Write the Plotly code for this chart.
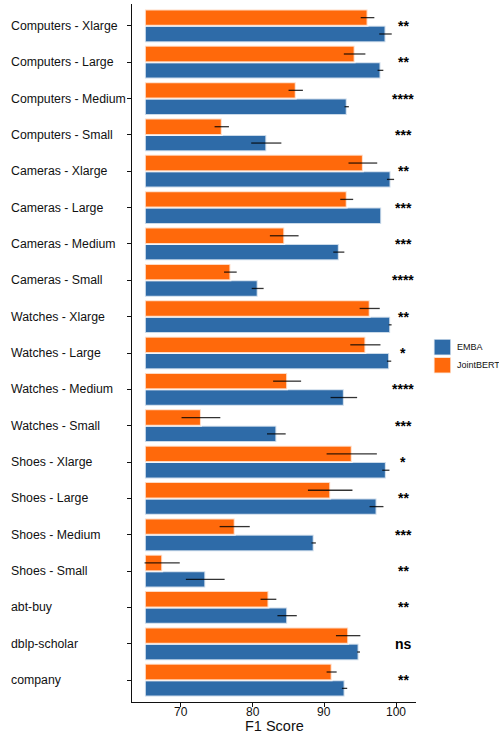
import plotly.graph_objects as go

# F1 scores (mean and sd) for each dataset, EMBA vs JointBERT
categories = [
    "Computers - Xlarge", "Computers - Large", "Computers - Medium", "Computers - Small",
    "Cameras - Xlarge", "Cameras - Large", "Cameras - Medium", "Cameras - Small",
    "Watches - Xlarge", "Watches - Large", "Watches - Medium", "Watches - Small",
    "Shoes - Xlarge", "Shoes - Large", "Shoes - Medium", "Shoes - Small",
    "abt-buy", "dblp-scholar", "company",
]
emba_f1 = [98.5, 97.8, 93.1, 81.9, 99.2, 97.9, 92.0, 80.7, 99.15, 99.0,
           92.7, 83.3, 98.55, 97.25, 88.5, 73.4, 84.8, 94.75, 92.8]
emba_sd = [0.87, 0.4, 0.3, 2.1, 0.5, 0.0, 0.77, 0.83, 0.2, 0.3,
           1.85, 1.3, 0.5, 0.97, 0.3, 2.7, 1.35, 0.2, 0.37]
jointbert_f1 = [96.0, 94.2, 86.0, 75.7, 95.35, 93.1, 84.4, 76.9, 96.3, 95.7,
                84.8, 72.8, 93.8, 90.8, 77.5, 67.4, 82.2, 93.3, 91.0]
jointbert_sd = [0.95, 1.5, 1.0, 1.0, 2.0, 0.9, 2.0, 0.88, 1.4, 2.1,
                1.95, 2.7, 3.5, 3.1, 2.1, 2.45, 1.1, 1.7, 0.7]
significance = ["**", "**", "****", "***", "**", "***", "***", "****", "**", "*",
                "****", "***", "*", "**", "***", "**", "**", "ns", "**"]
x_ticks = [70, 80, 90, 100]

BASE = 65
BLUE = "#2E6BA8"
ORANGE = "#FF690B"
FONT = "Liberation Sans, Arial, sans-serif"

fig = go.Figure()
for name, vals, sds, color in [
    ("EMBA", emba_f1, emba_sd, BLUE),
    ("JointBERT", jointbert_f1, jointbert_sd, ORANGE),
]:
    fig.add_trace(go.Bar(
        name=name, orientation="h", y=categories,
        x=[v - BASE for v in vals], base=BASE,
        marker=dict(color=color, line=dict(color="rgba(255,255,255,0.75)", width=2)),
        error_x=dict(type="data", array=sds, visible=True, width=0,
                     thickness=1.3, color="rgba(0,0,0,0.8)"),
        showlegend=False,
    ))

# Left-aligned category labels
for cat in categories:
    fig.add_annotation(text=cat, xref="paper", x=-0.434, xanchor="left",
                       yref="y", y=cat, yanchor="middle", showarrow=False,
                       font=dict(family=FONT, size=12.3, color="#111"))

# Significance marks
for cat, s in zip(categories, significance):
    fig.add_annotation(text=f"<b>{s}</b>", xref="x", x=101, xanchor="center",
                       yref="y", y=cat, yanchor="middle", showarrow=False,
                       font=dict(family=FONT, size=14, color="#000"))

# X tick labels, set close under the axis line
for t in x_ticks:
    fig.add_annotation(text=str(t), xref="x", x=t, xanchor="center",
                       yref="paper", y=-0.0145, yanchor="middle", showarrow=False,
                       borderpad=0, font=dict(family=FONT, size=12, color="#111"))

# Legend
for i, (name, color) in enumerate([("EMBA", BLUE), ("JointBERT", ORANGE)]):
    y1 = 0.5199 - i * 0.0259
    y0 = y1 - 0.0230
    fig.add_shape(type="rect", xref="paper", yref="paper",
                  x0=1.063, x1=1.123, y0=y0, y1=y1,
                  fillcolor=color, line=dict(color="rgba(255,255,255,0.75)", width=1.5))
    fig.add_annotation(text=name, xref="paper", x=1.136, xanchor="left",
                       yref="paper", y=(y0 + y1) / 2, yanchor="middle",
                       showarrow=False, font=dict(family=FONT, size=9, color="#111"))

# Axis title
fig.add_annotation(text="F1 Score", xref="paper", x=0.5, xanchor="center",
                   yref="paper", y=-0.0338, yanchor="middle", showarrow=False,
                   borderpad=0, font=dict(family=FONT, size=14.5, color="#111"))

fig.update_layout(
    width=499, height=733,
    margin=dict(l=132, r=83, t=4, b=31),
    barmode="group", bargap=0.1, bargroupgap=0,
    plot_bgcolor="white", paper_bgcolor="white",
    font=dict(family=FONT, size=12, color="#111"),
    xaxis=dict(range=[63.2, 102.75], tickvals=x_ticks, ticks="outside",
               ticklen=4, tickcolor="#111", showline=True, linecolor="#111",
               linewidth=1.2, showgrid=False, zeroline=False,
               showticklabels=False),
    yaxis=dict(categoryorder="array", categoryarray=categories[::-1],
               range=[-0.6, 18.6], ticks="outside", ticklen=4, tickcolor="#111",
               showline=True, linecolor="#111", linewidth=1.2,
               showgrid=False, zeroline=False, showticklabels=False),
)

fig.write_html("out.html")
